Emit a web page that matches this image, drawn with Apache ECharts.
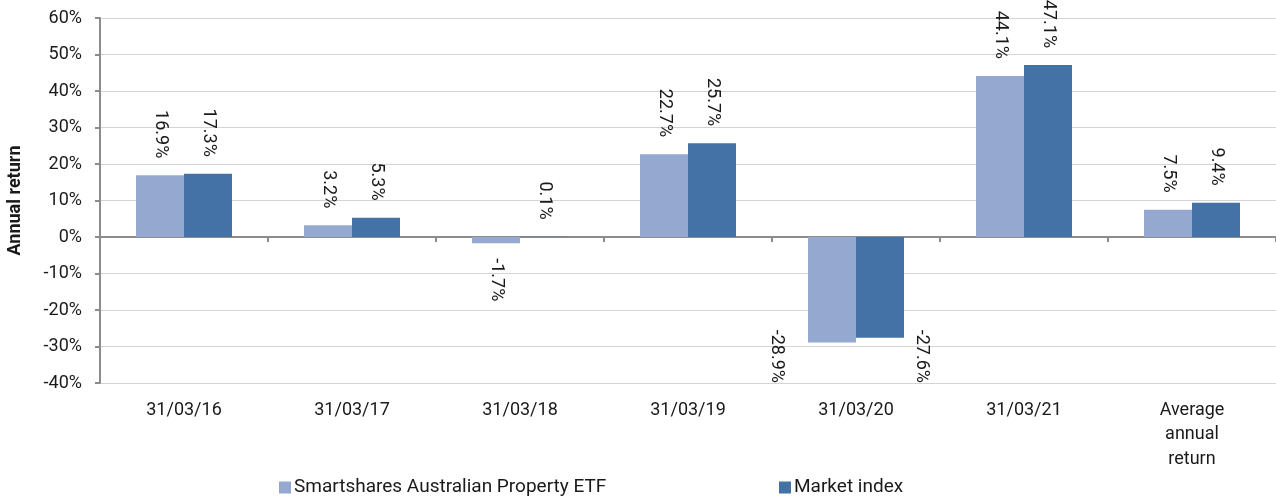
<!DOCTYPE html>
<html>
<head>
<meta charset="utf-8">
<script src="https://cdn.jsdelivr.net/npm/echarts@6/dist/echarts.min.js"></script>
<style>
  html, body { margin: 0; padding: 0; background: #fff; }
  #chart { width: 1276px; height: 503px; }
</style>
</head>
<body>
<div id="chart"></div>
<script>
var categories = ['31/03/16', '31/03/17', '31/03/18', '31/03/19', '31/03/20', '31/03/21', 'Average\nannual\nreturn'];
var etfReturns = [16.9, 3.2, -1.7, 22.7, -28.9, 44.1, 7.5];
var indexReturns = [17.3, 5.3, 0.1, 25.7, -27.6, 47.1, 9.4];
var seriesNames = ['Smartshares Australian Property ETF', 'Market index'];
var yTicks = { min: -40, max: 60, interval: 10 };

var labelFont = { fontFamily: 'Roboto', fontSize: 18, color: '#1a1a1a' };
var axisGrey = '#8c8c8c';

// labels that got pushed beside the bar (31/03/20)
var sideLabels = {
  0: { 4: [-32, 146] },
  1: { 4: [65, 146] }
};

function buildData(values, s) {
  return values.map(function (v, i) {
    var label;
    if (sideLabels[s][i]) {
      label = { position: sideLabels[s][i], align: 'right', verticalAlign: 'middle' };
    } else if (v >= 0) {
      label = { position: 'top', distance: 17, align: 'right', verticalAlign: 'middle' };
    } else {
      label = { position: 'bottom', distance: 15, align: 'left', verticalAlign: 'middle' };
    }
    return { value: v, label: label };
  });
}

function pct(p) { return p.value.toFixed(1) + '%'; }

var chart = echarts.init(document.getElementById('chart'));
var option = {
  animation: false,
  grid: { left: 100, right: 0, top: 18, bottom: 120, containLabel: false, outerBoundsMode: 'none' },
  legend: [
    {
      data: [seriesNames[0]], left: 274, bottom: 1,
      icon: 'rect', itemWidth: 12, itemHeight: 12,
      textStyle: { fontFamily: 'Roboto', fontSize: 19, color: '#1a1a1a', padding: [0, 0, 0, -2] }
    },
    {
      data: [seriesNames[1]], left: 774, bottom: 1,
      icon: 'rect', itemWidth: 12, itemHeight: 12,
      textStyle: { fontFamily: 'Roboto', fontSize: 19, color: '#1a1a1a', padding: [0, 0, 0, -2] }
    }
  ],
  xAxis: [
    {
      // zero line with the category ticks
      type: 'category',
      data: categories,
      axisLine: { onZero: true, lineStyle: { color: axisGrey, width: 2 } },
      axisTick: { show: true, length: 5, lineStyle: { color: axisGrey, width: 2 } },
      axisLabel: { show: false }
    },
    {
      // labels under the plot
      type: 'category',
      data: categories,
      position: 'bottom',
      axisLine: { show: false, onZero: false },
      axisTick: { show: false },
      axisLabel: { margin: 15, fontFamily: 'Roboto', fontSize: 18, color: '#1a1a1a', lineHeight: 24.5, interval: 0 }
    }
  ],
  yAxis: {
    type: 'value',
    min: yTicks.min, max: yTicks.max, interval: yTicks.interval,
    name: 'Annual return',
    nameLocation: 'middle',
    nameGap: 76,
    nameTextStyle: { fontFamily: 'Roboto', fontSize: 18, fontWeight: 'bold', color: '#1a1a1a' },
    axisLine: { show: true, lineStyle: { color: axisGrey, width: 2 } },
    axisTick: { show: true, length: 5, lineStyle: { color: axisGrey, width: 2 } },
    axisLabel: { margin: 18, fontFamily: 'Roboto', fontSize: 18, color: '#1a1a1a', formatter: '{value}%' },
    splitLine: { lineStyle: { color: '#d4d4d4', width: 1 } }
  },
  series: [
    {
      name: seriesNames[0], type: 'bar', barWidth: 48, barGap: '0%',
      itemStyle: { color: '#95a9d0' },
      label: Object.assign({ show: true, rotate: -90, formatter: pct }, labelFont),
      data: buildData(etfReturns, 0)
    },
    {
      name: seriesNames[1], type: 'bar', barWidth: 48, barGap: '0%',
      itemStyle: { color: '#4472a7' },
      label: Object.assign({ show: true, rotate: -90, formatter: pct }, labelFont),
      data: buildData(indexReturns, 1)
    }
  ]
};
chart.setOption(option);
</script>
</body>
</html>
